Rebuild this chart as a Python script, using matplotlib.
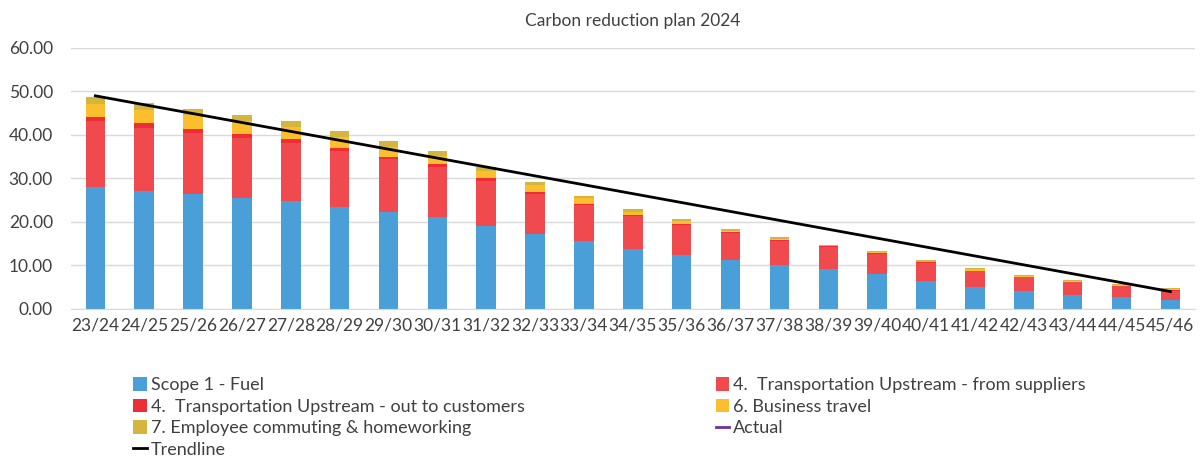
import matplotlib
matplotlib.use("Agg")
import matplotlib.pyplot as plt
import numpy as np
from matplotlib.patches import Patch
from matplotlib.lines import Line2D

plt.rcParams["font.family"] = ["Lato", "DejaVu Sans"]

years = ["23/24", "24/25", "25/26", "26/27", "27/28", "28/29", "29/30", "30/31",
         "31/32", "32/33", "33/34", "34/35", "35/36", "36/37", "37/38", "38/39",
         "39/40", "40/41", "41/42", "42/43", "43/44", "44/45", "45/46"]

fuel = [28.0, 27.2, 26.4, 25.6, 24.8, 23.5, 22.4, 21.1, 19.1, 17.2, 15.6, 13.8,
        12.4, 11.2, 10.1, 9.2, 8.1, 6.5, 5.1, 4.1, 3.3, 2.7, 2.1]
suppliers = [15.1, 14.5, 14.1, 13.7, 13.3, 12.7, 12.0, 11.5, 10.4, 9.3, 8.2, 7.6,
             6.9, 6.3, 5.5, 5.0, 4.6, 4.1, 3.6, 3.2, 2.8, 2.5, 2.1]
customers = [1.0, 1.1, 0.9, 1.0, 1.0, 0.9, 0.6, 0.8, 0.6, 0.5, 0.4, 0.3,
             0.3, 0.3, 0.2, 0.2, 0.1, 0.1, 0.1, 0.1, 0.1, 0.1, 0.1]
travel = [3.0, 2.9, 3.2, 2.8, 2.7, 2.4, 2.3, 1.8, 1.6, 1.4, 1.2, 0.7,
          0.6, 0.2, 0.2, 0.0, 0.2, 0.2, 0.3, 0.2, 0.2, 0.2, 0.2]
commuting = [1.7, 1.6, 1.3, 1.6, 1.5, 1.3, 1.3, 1.2, 1.0, 0.7, 0.5, 0.6,
             0.5, 0.4, 0.6, 0.3, 0.3, 0.4, 0.3, 0.2, 0.3, 0.3, 0.2]

trend_years = ["23/24", "45/46"]
trend_vals = [49.0, 4.0]

series = [
    ("Scope 1 - Fuel", fuel, "#4a9fd8"),
    ("4.  Transportation Upstream - from suppliers", suppliers, "#f04a4f"),
    ("4.  Transportation Upstream - out to customers", customers, "#ee2d35"),
    ("6. Business travel", travel, "#fbbf2d"),
    ("7. Employee commuting & homeworking", commuting, "#d4b53d"),
]

fig = plt.figure(figsize=(12.02, 4.57), dpi=100)
ax = fig.add_axes([0.059, 0.324, 0.935, 0.571])

x = np.arange(len(years))
bottom = np.zeros(len(years))
handles = {}
for name, vals, col in series:
    ax.bar(x, vals, 0.4, bottom=bottom, color=col, zorder=2)
    bottom += np.array(vals)
    handles[name] = Patch(facecolor=col, label=name)

tx = [years.index(t) for t in trend_years]
ax.plot(tx, trend_vals, color="black", lw=2, zorder=3)

handles["Actual"] = Line2D([], [], color="#7030a0", lw=2, label="Actual")
handles["Trendline"] = Line2D([], [], color="black", lw=2, label="Trendline")

ax.set_xlim(-0.5, len(years) - 0.5)
ax.set_ylim(0, 60)
ax.set_yticks(np.arange(0, 61, 10))
ax.set_yticklabels([f"{v:.2f}" for v in np.arange(0, 61, 10)])
ax.set_xticks(x)
ax.set_xticklabels(years)
ax.tick_params(length=0, labelsize=12.5, colors="#404040", pad=6)
ax.tick_params(axis="y", pad=13)
ax.grid(axis="y", color="#d9d9d9", lw=1, zorder=0)
for s in ["top", "right", "left"]:
    ax.spines[s].set_visible(False)
ax.spines["bottom"].set_color("#d9d9d9")

ax.set_title("Carbon reduction plan 2024", fontsize=12.5, color="#404040", pad=16)

order = ["Scope 1 - Fuel",
         "4.  Transportation Upstream - out to customers",
         "7. Employee commuting & homeworking",
         "Trendline",
         "4.  Transportation Upstream - from suppliers",
         "6. Business travel",
         "Actual"]
leg = fig.legend([handles[k] for k in order], order, ncol=2, loc="upper left",
                 bbox_to_anchor=(0.105, 0.19), frameon=False, fontsize=13,
                 handlelength=0.75, handleheight=0.75, handletextpad=0.2,
                 labelspacing=0.3, columnspacing=10.6, borderaxespad=0)
for t in leg.get_texts():
    t.set_color("#404040")

fig.savefig("out.png", dpi=100)
